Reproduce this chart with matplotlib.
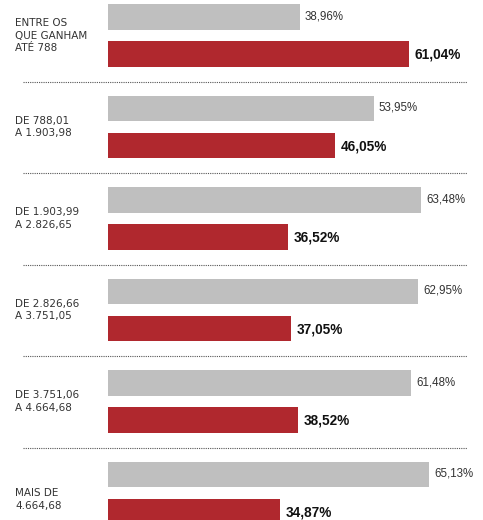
import matplotlib.pyplot as plt

# faixas de renda e percentuais
labels = ['ENTRE OS\nQUE GANHAM\nATÉ 788', 'DE 788,01\nA 1.903,98', 'DE 1.903,99\nA 2.826,65',
          'DE 2.826,66\nA 3.751,05', 'DE 3.751,06\nA 4.664,68', 'MAIS DE\n4.664,68']
gray_vals = [38.96, 53.95, 63.48, 62.95, 61.48, 65.13]
red_vals = [61.04, 46.05, 36.52, 37.05, 38.52, 34.87]
gray_txt = ['38,96%', '53,95%', '63,48%', '62,95%', '61,48%', '65,13%']
red_txt = ['61,04%', '46,05%', '36,52%', '37,05%', '38,52%', '34,87%']

fig = plt.figure(figsize=(4.83, 5.2), dpi=100)
ax = fig.add_axes([0, 0, 1, 1])
ax.set_xlim(-21.9, 76.06)
ax.set_ylim(5.295, -0.388)
ax.axis('off')

fam = ['Liberation Sans', 'DejaVu Sans']
ys = range(len(labels))
for i in ys:
    ax.barh(i - 0.202, gray_vals[i], height=0.275, color='#bfbfbf')
    ax.barh(i + 0.202, red_vals[i], height=0.275, color='#b0282e')
    ax.text(gray_vals[i] + 1.0, i - 0.21, gray_txt[i], va='center', ha='left',
            fontsize=8.3, color='#333333', family=fam)
    ax.text(red_vals[i] + 1.2, i + 0.21, red_txt[i], va='center', ha='left',
            fontsize=9.8, fontweight='bold', color='#111111', family=fam)
    ax.text(-18.8, i + (0.07 if i == 5 else 0.0), labels[i], va='center', ha='left',
            fontsize=7.5, color='#333333', linespacing=1.3, family='DejaVu Sans')
    if i < len(labels) - 1:
        ax.plot([-17.2, 72.8], [i + 0.508, i + 0.508], color='#555555',
                linestyle=(0, (1, 1)), linewidth=0.8)

fig.savefig('out.png', dpi=100)
